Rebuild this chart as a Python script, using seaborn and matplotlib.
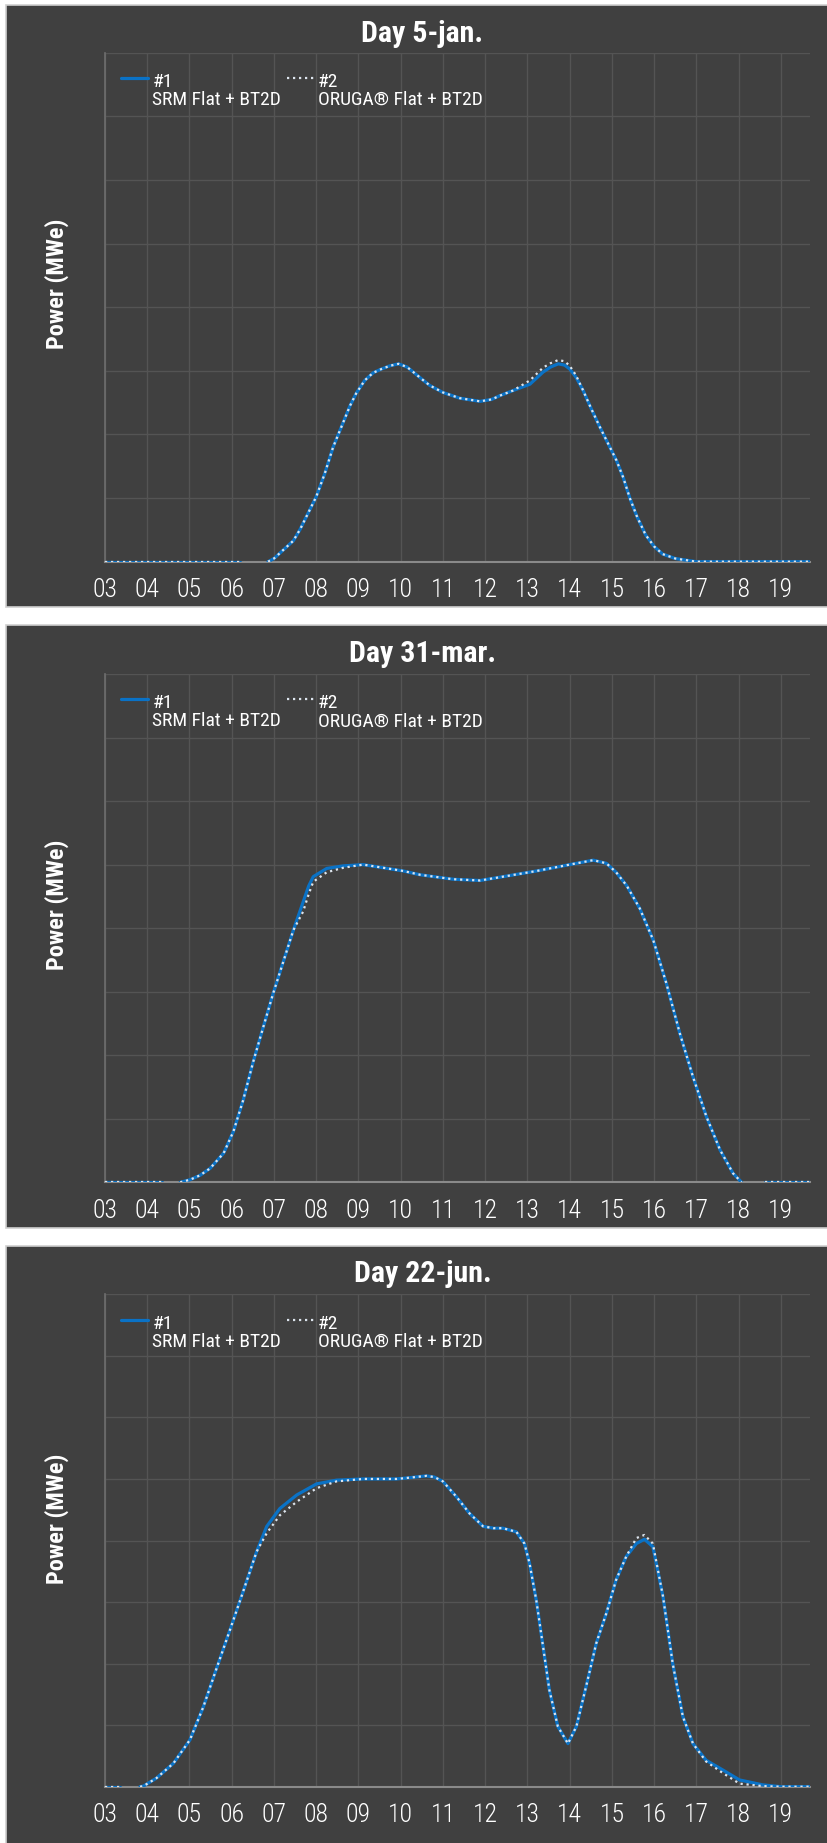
import numpy as np
import pandas as pd
import matplotlib
matplotlib.use("Agg")
import matplotlib.pyplot as plt
from matplotlib import font_manager as fm
from matplotlib.patches import Rectangle
from matplotlib.lines import Line2D
from matplotlib.legend_handler import HandlerLine2D
import seaborn as sns

# ---------------------------------------------------------------------------
# Data: net electric power profiles (in gridline units) for three design days
# ---------------------------------------------------------------------------
HOUR_TICKS = list(range(3, 20))
TICK_LABELS = [f"{h:02d}" for h in HOUR_TICKS]
SERIES_NAMES = ["#1", "#2"]
SERIES_DESC = ["SRM Flat + BT2D", "ORUGA® Flat + BT2D"]
DAY_TITLES = ["Day 5-jan.", "Day 31-mar.", "Day 22-jun."]

# 5 January
JAN_HOURS = [3.0, 6.2,
             6.86, 7.0, 7.46, 7.62, 8.0, 8.2, 8.4, 8.56, 8.8, 8.95, 9.15, 9.35,
             9.55, 9.75, 9.95, 10.15, 10.3, 10.5, 10.69, 11.0, 11.4, 11.88,
             12.15, 12.35, 12.66, 13.06, 13.37, 13.55, 13.73, 13.88, 14.0,
             14.15, 14.32, 14.5, 14.72, 14.9, 15.11, 15.27, 15.43, 15.6, 15.8,
             16.0, 16.2, 16.5, 16.8, 17.0, 19.7]
JAN_SRM = [0.0, 0.0,
           0.0, 0.05, 0.33, 0.51, 1.02, 1.38, 1.80, 2.06, 2.45, 2.65, 2.85, 2.97,
           3.03, 3.08, 3.11, 3.06, 2.98, 2.87, 2.77, 2.66, 2.57, 2.52,
           2.55, 2.61, 2.69, 2.79, 2.98, 3.06, 3.11, 3.09, 3.03,
           2.90, 2.69, 2.42, 2.11, 1.87, 1.59, 1.32, 0.99, 0.70, 0.42,
           0.24, 0.12, 0.05, 0.02, 0.0, 0.0]
JAN_ORUGA = [0.0, 0.0,
             0.0, 0.05, 0.33, 0.51, 1.02, 1.38, 1.80, 2.06, 2.45, 2.65, 2.85, 2.97,
             3.03, 3.08, 3.11, 3.06, 2.98, 2.87, 2.77, 2.66, 2.57, 2.52,
             2.55, 2.61, 2.69, 2.85, 3.05, 3.12, 3.17, 3.15, 3.08,
             2.93, 2.69, 2.42, 2.11, 1.87, 1.59, 1.32, 0.99, 0.70, 0.42,
             0.24, 0.12, 0.05, 0.02, 0.0, 0.0]
JAN_SEGMENT = [0, 0] + [1] * 47

# 31 March
MAR_HOURS = [3.0, 4.34,
             4.78, 5.01, 5.25, 5.49, 5.81, 6.04, 6.27, 6.51, 6.75, 6.98, 7.22,
             7.46, 7.69, 7.82, 7.93, 8.25, 8.64, 9.11, 9.59, 10.06, 10.46,
             11.24, 11.88, 12.51, 13.22, 14.0, 14.56, 14.87, 15.1, 15.35,
             15.66, 15.98, 16.29, 16.61, 16.92, 17.24, 17.56, 17.87, 18.07,
             18.62, 19.7]
MAR_SRM = [0.0, 0.0,
           0.0, 0.04, 0.11, 0.22, 0.46, 0.80, 1.29, 1.90, 2.45, 2.97, 3.47,
           3.97, 4.41, 4.66, 4.81, 4.94, 4.98, 5.00, 4.95, 4.90, 4.84,
           4.77, 4.75, 4.82, 4.90, 5.00, 5.07, 5.02, 4.88, 4.67,
           4.31, 3.81, 3.13, 2.34, 1.66, 1.03, 0.51, 0.14, 0.0,
           0.0, 0.0]
MAR_ORUGA = [0.0, 0.0,
             0.0, 0.04, 0.11, 0.22, 0.46, 0.80, 1.29, 1.90, 2.45, 2.97, 3.47,
             3.97, 4.26, 4.53, 4.73, 4.88, 4.95, 5.00, 4.95, 4.90, 4.84,
             4.77, 4.75, 4.82, 4.90, 5.00, 5.07, 5.02, 4.88, 4.67,
             4.31, 3.81, 3.13, 2.34, 1.66, 1.03, 0.51, 0.14, 0.0,
             0.0, 0.0]
MAR_SEGMENT = [0, 0] + [1] * 39 + [2, 2]

# 22 June
JUN_HOURS = [3.0, 3.36,
             3.83, 3.91, 4.22, 4.62, 5.01, 5.33, 5.64, 5.96, 6.27, 6.59, 6.83,
             7.14, 7.54, 8.01, 8.48, 9.11, 9.9, 10.2, 10.61, 10.8, 11.0, 11.32,
             11.63, 11.95, 12.2, 12.42, 12.74, 12.93, 13.05, 13.21, 13.37,
             13.52, 13.72, 13.96, 14.16, 14.39, 14.63, 14.87, 15.1, 15.34,
             15.58, 15.77, 15.97, 16.21, 16.44, 16.68, 16.92, 17.23, 17.63,
             18.02, 18.57, 19.0, 19.7]
JUN_SRM = [0.0, 0.0,
           0.0, 0.01, 0.14, 0.38, 0.76, 1.30, 1.92, 2.55, 3.17, 3.82, 4.23,
           4.52, 4.74, 4.92, 4.98, 5.00, 5.00, 5.02, 5.05, 5.03, 4.96, 4.71,
           4.44, 4.23, 4.20, 4.20, 4.14, 3.95, 3.63, 3.03, 2.28,
           1.57, 0.98, 0.70, 0.98, 1.63, 2.33, 2.82, 3.36, 3.74,
           3.95, 4.02, 3.90, 3.09, 2.00, 1.14, 0.70, 0.43, 0.27,
           0.11, 0.03, 0.0, 0.0]
JUN_ORUGA = [0.0, 0.0,
             0.0, 0.01, 0.14, 0.38, 0.76, 1.30, 1.92, 2.55, 3.17, 3.82, 4.12,
             4.41, 4.63, 4.85, 4.96, 5.00, 5.00, 5.02, 5.05, 5.03, 4.96, 4.71,
             4.44, 4.23, 4.20, 4.20, 4.14, 3.95, 3.63, 3.03, 2.28,
             1.57, 0.98, 0.70, 0.98, 1.63, 2.33, 2.82, 3.36, 3.74,
             4.04, 4.09, 3.95, 3.09, 2.00, 1.14, 0.70, 0.41, 0.22,
             0.05, 0.01, 0.0, 0.0]
JUN_SEGMENT = [0, 0] + [1] * 53

DAYS = [
    (JAN_HOURS, JAN_SRM, JAN_ORUGA, JAN_SEGMENT),
    (MAR_HOURS, MAR_SRM, MAR_ORUGA, MAR_SEGMENT),
    (JUN_HOURS, JUN_SRM, JUN_ORUGA, JUN_SEGMENT),
]

# ---------------------------------------------------------------------------
# Style
# ---------------------------------------------------------------------------
sns.set_theme(style="dark")


def pick_condensed():
    """First condensed sans family that ships a bold face."""
    have = {}
    for f in fm.fontManager.ttflist:
        have.setdefault(f.name, set()).add(f.weight)
    for fam in ["Roboto Condensed", "Fira Sans Condensed", "IBM Plex Sans Condensed",
                "Barlow Semi Condensed", "Asap Condensed"]:
        w = have.get(fam, set())
        if any(x in (700, "bold") for x in w) and any(x in (400, "normal", "regular") for x in w):
            return fam
    return "DejaVu Sans"


FONT = pick_condensed()
plt.rcParams["font.family"] = [FONT, "DejaVu Sans"]

PANEL_BG = "#404040"
PANEL_EDGE = "#cfcfcf"
GRID = "#545454"
BLUE = "#0a72c6"
DOTS = "#dde5ee"
DOT_STYLE = (0, (1, 1.7))

W, H = 827, 1843
DPI = 100
fig = plt.figure(figsize=(W / DPI, H / DPI), dpi=DPI, facecolor="white")

# card tops and axes extents, in pixels from the top of the figure
PANEL_TOPS = [5.0, 625.3, 1245.6]
PANEL_H = 602.3
AX_LEFT, AX_RIGHT = 105.0, 810.0
AX_TOPS = [52.7, 674.0, 1294.3]
AX_BOTTOMS = [561.7, 1182.3, 1786.7]


class RaisedLineHandler(HandlerLine2D):
    """Legend line handler that lifts the sample to the first label line."""

    def __init__(self, lift, **kw):
        super().__init__(**kw)
        self.lift = lift

    def create_artists(self, legend, orig_handle, xdescent, ydescent,
                       width, height, fontsize, trans):
        arts = super().create_artists(legend, orig_handle, xdescent, ydescent,
                                      width, height, fontsize, trans)
        for a in arts:
            a.set_ydata(np.asarray(a.get_ydata(), float) + self.lift)
        return arts


LEG_FS = 14

for i, (hours, srm, oruga, seg) in enumerate(DAYS):
    # dark card behind each day
    ptop = PANEL_TOPS[i]
    fig.add_artist(Rectangle((6 / W, 1 - (ptop + PANEL_H) / H), 1.0, PANEL_H / H,
                             transform=fig.transFigure, facecolor=PANEL_BG,
                             edgecolor=PANEL_EDGE, linewidth=1.2, zorder=-1))

    top, bot = AX_TOPS[i], AX_BOTTOMS[i]
    ax = fig.add_axes([AX_LEFT / W, 1 - bot / H, (AX_RIGHT - AX_LEFT) / W, (bot - top) / H])
    ax.set_facecolor(PANEL_BG)

    df = pd.DataFrame({"hour": hours, "srm": srm, "oruga": oruga, "segment": seg})

    sns.lineplot(data=df, x="hour", y="srm", units="segment", estimator=None,
                 sort=False, color=BLUE, linewidth=2.3, ax=ax, zorder=3)
    n_before = len(ax.lines)
    sns.lineplot(data=df, x="hour", y="oruga", units="segment", estimator=None,
                 sort=False, color=DOTS, linewidth=1.6, ax=ax, zorder=4)
    for ln in ax.lines[n_before:]:
        ln.set_linestyle(DOT_STYLE)

    ax.set_xlim(3, 19.69)
    ax.set_ylim(0, 8)
    ax.set_xticks(HOUR_TICKS)
    ax.set_xticklabels(TICK_LABELS, fontweight="light")
    ax.set_yticks(range(0, 9))
    ax.set_yticklabels([])
    ax.grid(True, color=GRID, linewidth=1.0)
    ax.set_axisbelow(True)
    ax.tick_params(axis="x", length=6, width=1, colors="#858585", labelcolor="white",
                   labelsize=18.5, pad=6, direction="out")
    ax.tick_params(axis="y", length=0)
    for side in ("top", "right"):
        ax.spines[side].set_visible(False)
    ax.spines["left"].set_color("#6e6e6e")
    ax.spines["left"].set_linewidth(1.2)
    ax.spines["bottom"].set_color("#8a8a8a")
    ax.spines["bottom"].set_linewidth(1.5)

    ax.set_xlabel("")
    ax.set_ylabel("Power (MWe)", color="white", fontsize=17.5, fontweight="bold")
    ax.yaxis.set_label_coords(-0.051, 0.545)

    # legend: two columns, series tag on the first line, description below
    handles = [Line2D([], [], color=BLUE, linewidth=2.3),
               Line2D([], [], color=DOTS, linewidth=1.6, linestyle=DOT_STYLE)]
    labels = [f"{n}\n{d}" for n, d in zip(SERIES_NAMES, SERIES_DESC)]
    lift = 0.68 * LEG_FS
    leg = ax.legend(handles, labels, ncol=2, loc="upper left", bbox_to_anchor=(-0.006, 1),
                    frameon=False, fontsize=LEG_FS, labelcolor="white",
                    handlelength=1.4, handletextpad=0.2, columnspacing=0.3,
                    borderaxespad=0, borderpad=1.05,
                    handler_map={h: RaisedLineHandler(lift) for h in handles})
    for t in leg.get_texts():
        t.set_linespacing(1.0)

    # day title centred over the card
    fig.text(422.5 / W, 1 - (ptop + 36.7) / H, DAY_TITLES[i], ha="center",
             va="baseline", color="white", fontsize=21.5, fontweight="bold")

fig.savefig("out.png", dpi=DPI, facecolor="white")
